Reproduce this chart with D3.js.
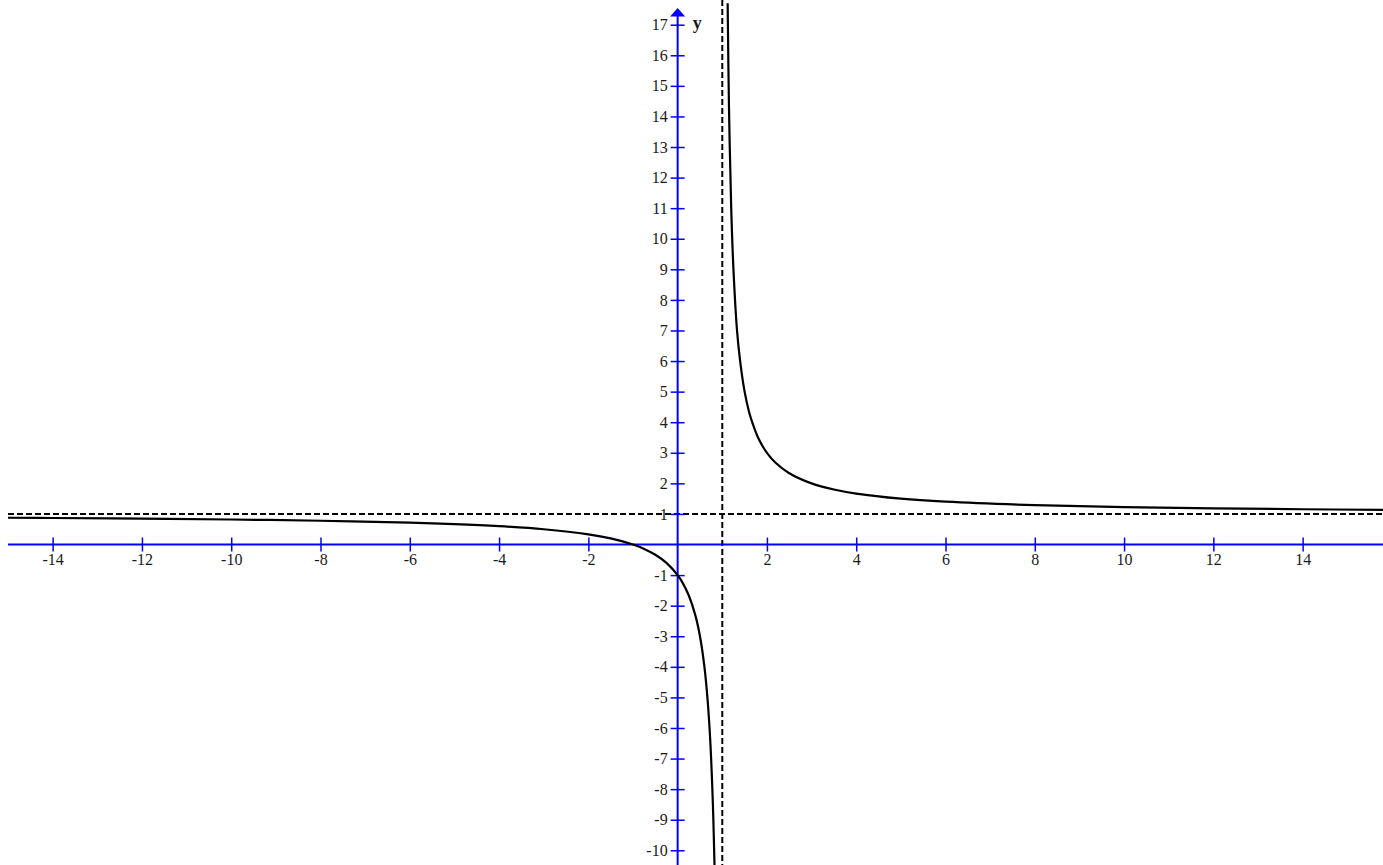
<!DOCTYPE html>
<html>
<head>
<meta charset="utf-8">
<script src="https://cdn.jsdelivr.net/npm/d3@7"></script>
<style>
html,body{margin:0;padding:0;background:#fff;}
svg{display:block;}
text{font-family:"Liberation Serif","Times New Roman",serif;}
</style>
</head>
<body>
<svg id="c" width="1383" height="865"></svg>
<script>
// Tick values
const xTicks = [-14,-12,-10,-8,-6,-4,-2,2,4,6,8,10,12,14];
const yTicks = [-10,-9,-8,-7,-6,-5,-4,-3,-2,-1,1,2,3,4,5,6,7,8,9,10,11,12,13,14,15,16,17];
// Asymptotes
const vAsym = 1;
const hAsym = 1;
// Left branch
const leftX = [-15,-14,-12,-10,-8,-6,-5,-4,-3,-2,-1.5,-1,-0.75,-0.5,-0.25,0,0.1,0.25,0.4,0.5,0.6,0.67,0.72,0.75,0.78,0.8,0.826];
const leftY = [0.875,0.867,0.846,0.818,0.778,0.714,0.667,0.6,0.5,0.333,0.2,0,-0.143,-0.333,-0.6,-1,-1.222,-1.667,-2.333,-3,-4,-5.06,-6.14,-7,-8.1,-9,-10.5];
// Right branch
const rightX = [1.12,1.15,1.2,1.25,1.33,1.4,1.5,1.6,1.67,1.8,2,2.2,2.5,3,3.5,4,5,6,8,10,12,14,15.8];
const rightY = [17.7,14.3,11,9,7,6,5,4.333,4,3.5,3,2.667,2.333,2,1.8,1.667,1.5,1.4,1.286,1.222,1.182,1.154,1.135];

const W = 1383, H = 865;
const svg = d3.select("#c");
const x = d3.scaleLinear().domain([-15, 15.8]).range([8, 1383]);
const y = d3.scaleLinear().domain([-10, 17]).range([850.3, 24.7]);
const BLUE = "#0000ff";
const FONT = '"Liberation Serif","Times New Roman",serif';

// dashed asymptotes
svg.append("line").attr("x1", x(vAsym)).attr("x2", x(vAsym)).attr("y1", 0).attr("y2", H)
  .attr("stroke", "#000").attr("stroke-width", 2).attr("stroke-dasharray", "6,3");
svg.append("line").attr("x1", 8).attr("x2", W).attr("y1", y(hAsym)).attr("y2", y(hAsym))
  .attr("stroke", "#000").attr("stroke-width", 2).attr("stroke-dasharray", "6,3");

// axes lines
svg.append("line").attr("x1", 8).attr("x2", W).attr("y1", y(0)).attr("y2", y(0))
  .attr("stroke", BLUE).attr("stroke-width", 2);
svg.append("line").attr("x1", x(0)).attr("x2", x(0)).attr("y1", 14).attr("y2", H)
  .attr("stroke", BLUE).attr("stroke-width", 2);
svg.append("path")
  .attr("d", `M${x(0)},8 L${x(0)-7.5},16.5 L${x(0)+7.5},16.5 Z`)
  .attr("fill", BLUE);

// x axis ticks
const gx = svg.append("g").attr("transform", `translate(0,${y(0)})`)
  .call(d3.axisBottom(x).tickValues(xTicks).tickSize(7).tickPadding(2).tickFormat(d => String(d)));
gx.select(".domain").remove();
gx.selectAll("line").attr("y1", -7).attr("y2", 7).attr("stroke", BLUE).attr("stroke-width", 1.5);
gx.selectAll("text").attr("fill", "#1a1a1a").style("font-size", "16px").style("font-family", FONT);

// y axis ticks
const gy = svg.append("g").attr("transform", `translate(${x(0)},0)`)
  .call(d3.axisLeft(y).tickValues(yTicks).tickSize(7).tickPadding(3).tickFormat(d => String(d)));
gy.select(".domain").remove();
gy.selectAll("line").attr("x1", -7).attr("x2", 7).attr("stroke", BLUE).attr("stroke-width", 1.5);
gy.selectAll("text").attr("fill", "#1a1a1a").style("font-size", "16px").style("font-family", FONT);

// y label
svg.append("text").attr("x", x(0) + 15).attr("y", 29).text("y")
  .attr("fill", "#1a1a1a").style("font-size", "18px").style("font-weight", "bold").style("font-family", FONT);

// curves
const line = d3.line().x(d => x(d[0])).y(d => y(d[1])).curve(d3.curveCatmullRom.alpha(0.5));
const left = leftX.map((v, i) => [v, leftY[i]]);
const right = rightX.map((v, i) => [v, rightY[i]]);
svg.append("defs").append("clipPath").attr("id", "clip")
  .append("rect").attr("x", 8).attr("y", 0).attr("width", W - 8).attr("height", H);
const gc = svg.append("g").attr("clip-path", "url(#clip)");
[left, right].forEach(data => {
  gc.append("path").datum(data).attr("d", line)
    .attr("fill", "none").attr("stroke", "#000").attr("stroke-width", 2.2);
});
</script>
</body>
</html>
